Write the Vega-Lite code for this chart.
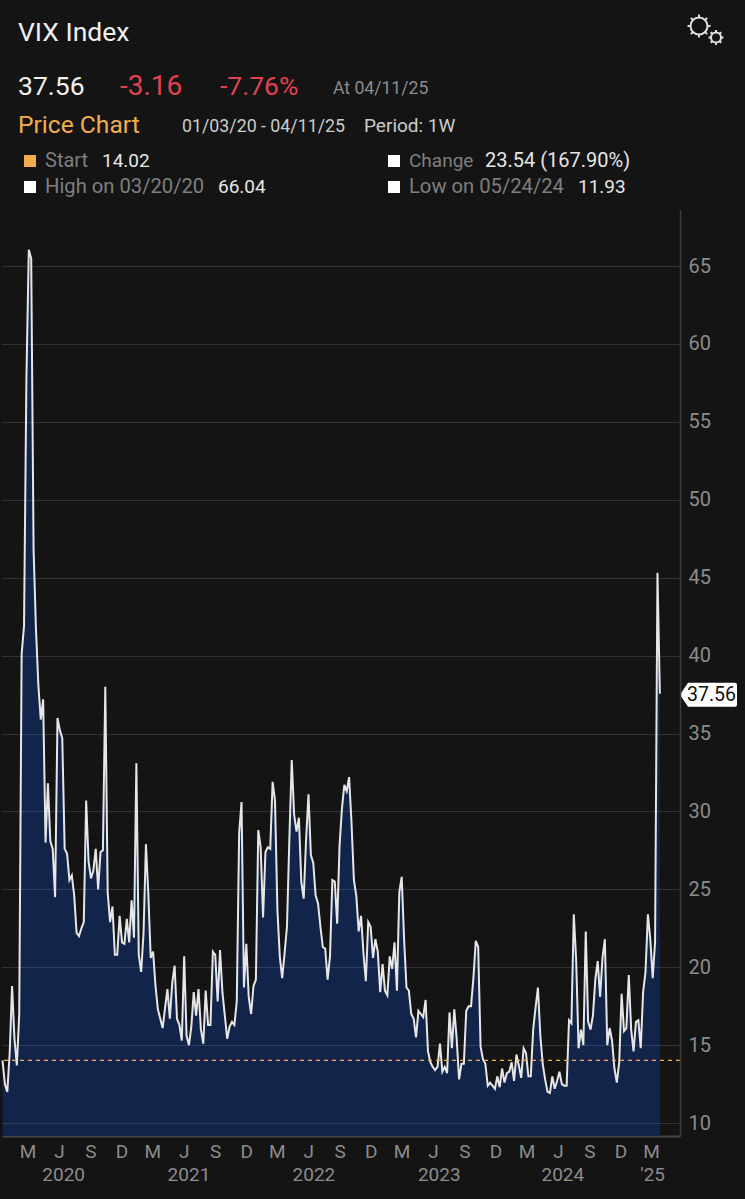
{"$schema":"https://vega.github.io/schema/vega-lite/v6.json","width":678,"height":926,"autosize":{"type":"none"},"padding":{"left":2,"top":210,"right":65,"bottom":63},"background":"#141414","config":{"view":{"stroke":null},"font":"Roboto"},"datasets":{"vix":[{"d":"2020-01-03","v":14.02},{"d":"2020-01-10","v":12.5},{"d":"2020-01-17","v":12.0},{"d":"2020-01-24","v":14.5},{"d":"2020-01-31","v":18.8},{"d":"2020-02-07","v":15.4},{"d":"2020-02-14","v":13.7},{"d":"2020-02-21","v":17.0},{"d":"2020-02-28","v":40.1},{"d":"2020-03-06","v":41.9},{"d":"2020-03-13","v":57.8},{"d":"2020-03-20","v":66.04},{"d":"2020-03-27","v":65.5},{"d":"2020-04-03","v":46.8},{"d":"2020-04-10","v":41.7},{"d":"2020-04-17","v":38.1},{"d":"2020-04-24","v":35.9},{"d":"2020-05-01","v":37.2},{"d":"2020-05-08","v":28.0},{"d":"2020-05-15","v":31.8},{"d":"2020-05-22","v":28.1},{"d":"2020-05-29","v":27.6},{"d":"2020-06-05","v":24.5},{"d":"2020-06-12","v":36.0},{"d":"2020-06-19","v":35.2},{"d":"2020-06-26","v":34.7},{"d":"2020-07-03","v":27.6},{"d":"2020-07-10","v":27.3},{"d":"2020-07-17","v":25.6},{"d":"2020-07-24","v":25.9},{"d":"2020-07-31","v":24.6},{"d":"2020-08-07","v":22.2},{"d":"2020-08-14","v":22.0},{"d":"2020-08-21","v":22.5},{"d":"2020-08-28","v":22.9},{"d":"2020-09-04","v":30.7},{"d":"2020-09-11","v":26.8},{"d":"2020-09-18","v":25.7},{"d":"2020-09-25","v":26.2},{"d":"2020-10-02","v":27.6},{"d":"2020-10-09","v":25.0},{"d":"2020-10-16","v":27.4},{"d":"2020-10-23","v":27.5},{"d":"2020-10-30","v":38.0},{"d":"2020-11-06","v":24.8},{"d":"2020-11-13","v":22.9},{"d":"2020-11-20","v":23.9},{"d":"2020-11-27","v":20.8},{"d":"2020-12-04","v":20.8},{"d":"2020-12-11","v":23.3},{"d":"2020-12-18","v":21.6},{"d":"2020-12-25","v":21.5},{"d":"2021-01-01","v":23.1},{"d":"2021-01-08","v":21.6},{"d":"2021-01-15","v":24.3},{"d":"2021-01-22","v":21.9},{"d":"2021-01-29","v":33.1},{"d":"2021-02-05","v":20.8},{"d":"2021-02-12","v":19.7},{"d":"2021-02-19","v":22.2},{"d":"2021-02-26","v":27.9},{"d":"2021-03-05","v":24.7},{"d":"2021-03-12","v":20.6},{"d":"2021-03-19","v":21.0},{"d":"2021-03-26","v":18.8},{"d":"2021-04-02","v":17.3},{"d":"2021-04-09","v":16.7},{"d":"2021-04-16","v":16.1},{"d":"2021-04-23","v":17.4},{"d":"2021-04-30","v":18.6},{"d":"2021-05-07","v":16.7},{"d":"2021-05-14","v":19.0},{"d":"2021-05-21","v":20.1},{"d":"2021-05-28","v":16.7},{"d":"2021-06-04","v":16.3},{"d":"2021-06-11","v":15.3},{"d":"2021-06-18","v":20.7},{"d":"2021-06-25","v":15.6},{"d":"2021-07-02","v":15.0},{"d":"2021-07-09","v":16.2},{"d":"2021-07-16","v":18.4},{"d":"2021-07-23","v":16.9},{"d":"2021-07-30","v":18.6},{"d":"2021-08-06","v":16.0},{"d":"2021-08-13","v":15.1},{"d":"2021-08-20","v":18.5},{"d":"2021-08-27","v":16.3},{"d":"2021-09-03","v":16.3},{"d":"2021-09-10","v":21.0},{"d":"2021-09-17","v":20.8},{"d":"2021-09-24","v":17.8},{"d":"2021-10-01","v":21.1},{"d":"2021-10-08","v":18.4},{"d":"2021-10-15","v":16.9},{"d":"2021-10-22","v":15.4},{"d":"2021-10-29","v":16.2},{"d":"2021-11-05","v":16.5},{"d":"2021-11-12","v":16.3},{"d":"2021-11-19","v":17.8},{"d":"2021-11-26","v":28.6},{"d":"2021-12-03","v":30.6},{"d":"2021-12-10","v":18.7},{"d":"2021-12-17","v":21.5},{"d":"2021-12-24","v":18.1},{"d":"2021-12-31","v":17.0},{"d":"2022-01-07","v":18.8},{"d":"2022-01-14","v":19.2},{"d":"2022-01-21","v":28.8},{"d":"2022-01-28","v":27.7},{"d":"2022-02-04","v":23.2},{"d":"2022-02-11","v":27.4},{"d":"2022-02-18","v":27.7},{"d":"2022-02-25","v":27.6},{"d":"2022-03-04","v":31.9},{"d":"2022-03-11","v":30.7},{"d":"2022-03-18","v":23.7},{"d":"2022-03-25","v":20.7},{"d":"2022-04-01","v":19.3},{"d":"2022-04-08","v":20.9},{"d":"2022-04-15","v":22.6},{"d":"2022-04-22","v":28.2},{"d":"2022-04-29","v":33.3},{"d":"2022-05-06","v":29.8},{"d":"2022-05-13","v":28.7},{"d":"2022-05-20","v":29.6},{"d":"2022-05-27","v":25.5},{"d":"2022-06-03","v":24.4},{"d":"2022-06-10","v":28.2},{"d":"2022-06-17","v":31.1},{"d":"2022-06-24","v":27.2},{"d":"2022-07-01","v":26.7},{"d":"2022-07-08","v":24.6},{"d":"2022-07-15","v":24.1},{"d":"2022-07-22","v":22.6},{"d":"2022-07-29","v":21.3},{"d":"2022-08-05","v":21.2},{"d":"2022-08-12","v":19.2},{"d":"2022-08-19","v":20.7},{"d":"2022-08-26","v":25.6},{"d":"2022-09-02","v":25.5},{"d":"2022-09-09","v":22.8},{"d":"2022-09-16","v":27.8},{"d":"2022-09-23","v":30.2},{"d":"2022-09-30","v":31.7},{"d":"2022-10-07","v":31.3},{"d":"2022-10-14","v":32.2},{"d":"2022-10-21","v":29.3},{"d":"2022-10-28","v":25.6},{"d":"2022-11-04","v":24.6},{"d":"2022-11-11","v":22.3},{"d":"2022-11-18","v":23.3},{"d":"2022-11-25","v":20.9},{"d":"2022-12-02","v":19.1},{"d":"2022-12-09","v":22.9},{"d":"2022-12-16","v":22.6},{"d":"2022-12-23","v":20.6},{"d":"2022-12-30","v":21.8},{"d":"2023-01-06","v":21.0},{"d":"2023-01-13","v":18.4},{"d":"2023-01-20","v":20.2},{"d":"2023-01-27","v":18.5},{"d":"2023-02-03","v":18.2},{"d":"2023-02-10","v":20.7},{"d":"2023-02-17","v":19.9},{"d":"2023-02-24","v":21.6},{"d":"2023-03-03","v":18.5},{"d":"2023-03-10","v":24.8},{"d":"2023-03-17","v":25.8},{"d":"2023-03-24","v":21.8},{"d":"2023-03-31","v":18.7},{"d":"2023-04-07","v":18.5},{"d":"2023-04-14","v":17.0},{"d":"2023-04-21","v":16.7},{"d":"2023-04-28","v":15.5},{"d":"2023-05-05","v":17.2},{"d":"2023-05-12","v":17.0},{"d":"2023-05-19","v":16.8},{"d":"2023-05-26","v":17.9},{"d":"2023-06-02","v":14.6},{"d":"2023-06-09","v":13.9},{"d":"2023-06-16","v":13.6},{"d":"2023-06-23","v":13.4},{"d":"2023-06-30","v":13.6},{"d":"2023-07-07","v":15.1},{"d":"2023-07-14","v":13.3},{"d":"2023-07-21","v":13.6},{"d":"2023-07-28","v":13.2},{"d":"2023-08-04","v":17.1},{"d":"2023-08-11","v":14.8},{"d":"2023-08-18","v":17.3},{"d":"2023-08-25","v":15.4},{"d":"2023-09-01","v":12.8},{"d":"2023-09-08","v":13.8},{"d":"2023-09-15","v":13.8},{"d":"2023-09-22","v":17.2},{"d":"2023-09-29","v":17.5},{"d":"2023-10-06","v":17.5},{"d":"2023-10-13","v":19.3},{"d":"2023-10-20","v":21.7},{"d":"2023-10-27","v":21.3},{"d":"2023-11-03","v":14.9},{"d":"2023-11-10","v":14.1},{"d":"2023-11-17","v":13.8},{"d":"2023-11-24","v":12.4},{"d":"2023-12-01","v":12.6},{"d":"2023-12-08","v":12.4},{"d":"2023-12-15","v":12.2},{"d":"2023-12-22","v":13.0},{"d":"2023-12-29","v":12.3},{"d":"2024-01-05","v":13.5},{"d":"2024-01-12","v":12.6},{"d":"2024-01-19","v":13.2},{"d":"2024-01-26","v":13.3},{"d":"2024-02-02","v":13.9},{"d":"2024-02-09","v":12.7},{"d":"2024-02-16","v":14.4},{"d":"2024-02-23","v":13.7},{"d":"2024-03-01","v":12.9},{"d":"2024-03-08","v":14.8},{"d":"2024-03-15","v":14.5},{"d":"2024-03-22","v":13.0},{"d":"2024-03-29","v":13.0},{"d":"2024-04-05","v":16.0},{"d":"2024-04-12","v":17.4},{"d":"2024-04-19","v":18.7},{"d":"2024-04-26","v":15.6},{"d":"2024-05-03","v":13.8},{"d":"2024-05-10","v":12.8},{"d":"2024-05-17","v":12.0},{"d":"2024-05-24","v":11.93},{"d":"2024-05-31","v":13.0},{"d":"2024-06-07","v":12.2},{"d":"2024-06-14","v":12.7},{"d":"2024-06-21","v":13.3},{"d":"2024-06-28","v":12.5},{"d":"2024-07-05","v":12.4},{"d":"2024-07-12","v":12.4},{"d":"2024-07-19","v":16.6},{"d":"2024-07-26","v":16.4},{"d":"2024-08-02","v":23.4},{"d":"2024-08-09","v":20.4},{"d":"2024-08-16","v":14.8},{"d":"2024-08-23","v":16.0},{"d":"2024-08-30","v":15.0},{"d":"2024-09-06","v":22.3},{"d":"2024-09-13","v":16.5},{"d":"2024-09-20","v":16.0},{"d":"2024-09-27","v":16.9},{"d":"2024-10-04","v":19.2},{"d":"2024-10-11","v":20.4},{"d":"2024-10-18","v":18.1},{"d":"2024-10-25","v":20.6},{"d":"2024-11-01","v":21.8},{"d":"2024-11-08","v":15.0},{"d":"2024-11-15","v":16.1},{"d":"2024-11-22","v":15.3},{"d":"2024-11-29","v":13.5},{"d":"2024-12-06","v":12.6},{"d":"2024-12-13","v":13.9},{"d":"2024-12-20","v":18.3},{"d":"2024-12-27","v":15.9},{"d":"2025-01-03","v":16.1},{"d":"2025-01-10","v":19.5},{"d":"2025-01-17","v":16.0},{"d":"2025-01-24","v":14.6},{"d":"2025-01-31","v":16.5},{"d":"2025-02-07","v":16.6},{"d":"2025-02-14","v":14.8},{"d":"2025-02-21","v":18.4},{"d":"2025-02-28","v":19.7},{"d":"2025-03-07","v":23.4},{"d":"2025-03-14","v":21.8},{"d":"2025-03-21","v":19.3},{"d":"2025-03-28","v":21.6},{"d":"2025-04-04","v":45.31},{"d":"2025-04-11","v":37.56}]},"layer":[{"data":{"name":"vix"},"mark":{"type":"area","color":"#12244a","clip":true},"encoding":{"x":{"field":"d","type":"temporal","scale":{"type":"utc","domain":["2020-01-01T12:00:00Z","2025-06-09T00:00:00Z"]},"title":null,"axis":{"orient":"bottom","labels":false,"ticks":false,"grid":false,"domainColor":"#444444","domainWidth":2}},"y":{"field":"v","type":"quantitative","scale":{"domain":[9.17,68.6],"nice":false,"zero":false},"title":null,"axis":{"orient":"right","values":[10,15,20,25,30,35,40,45,50,55,60,65],"labelColor":"#8c8c8c","labelFontSize":20,"labelPadding":8,"ticks":false,"grid":true,"gridColor":"#ffffff","gridOpacity":0.13,"gridWidth":1,"domainColor":"#3c3c3c","domainWidth":1.5,"zindex":1}}}},{"data":{"name":"vix"},"mark":{"type":"line","color":"#e6e6e6","strokeWidth":2,"interpolate":"linear"},"encoding":{"x":{"field":"d","type":"temporal"},"y":{"field":"v","type":"quantitative"}}},{"data":{"values":[{"s":14.02}]},"mark":{"type":"rule","color":"#f2ad4e","strokeWidth":1.2,"strokeDash":[4,4]},"encoding":{"y":{"field":"s","type":"quantitative"}}},{"data":{"values":[{"d":"2020-03-18","t":"M"},{"d":"2020-06-18","t":"J"},{"d":"2020-09-18","t":"S"},{"d":"2020-12-18","t":"D"},{"d":"2021-03-18","t":"M"},{"d":"2021-06-18","t":"J"},{"d":"2021-09-18","t":"S"},{"d":"2021-12-18","t":"D"},{"d":"2022-03-18","t":"M"},{"d":"2022-06-18","t":"J"},{"d":"2022-09-18","t":"S"},{"d":"2022-12-18","t":"D"},{"d":"2023-03-18","t":"M"},{"d":"2023-06-18","t":"J"},{"d":"2023-09-18","t":"S"},{"d":"2023-12-18","t":"D"},{"d":"2024-03-18","t":"M"},{"d":"2024-06-18","t":"J"},{"d":"2024-09-18","t":"S"},{"d":"2024-12-18","t":"D"},{"d":"2025-03-18","t":"M"}]},"mark":{"type":"text","color":"#8c8c8c","fontSize":19,"baseline":"middle"},"encoding":{"x":{"field":"d","type":"temporal"},"y":{"datum":8.14},"text":{"field":"t"}}},{"data":{"values":[{"d":"2020-06-30","t":"2020"},{"d":"2021-07-02","t":"2021"},{"d":"2022-07-03","t":"2022"},{"d":"2023-07-05","t":"2023"},{"d":"2024-07-01","t":"2024"},{"d":"2025-03-21","t":"'25"}]},"mark":{"type":"text","color":"#8c8c8c","fontSize":19,"baseline":"middle"},"encoding":{"x":{"field":"d","type":"temporal"},"y":{"datum":6.66},"text":{"field":"t"}}},{"data":{"values":[{"d":"2025-06-09","v":37.56}]},"mark":{"type":"point","shape":"M0,1 L8,-11 L55,-11 Q57,-11 57,-9 L57,11 Q57,13 55,13 L8,13 Z","size":4,"filled":true,"color":"#ffffff","opacity":1},"encoding":{"x":{"field":"d","type":"temporal"},"y":{"field":"v","type":"quantitative"}}},{"data":{"values":[{"d":"2025-06-09","v":37.56,"t":"37.56"}]},"mark":{"type":"text","color":"#111111","fontSize":19.5,"align":"left","baseline":"middle","dx":7,"dy":1},"encoding":{"x":{"field":"d","type":"temporal"},"y":{"field":"v","type":"quantitative"},"text":{"field":"t"}}},{"data":{"values":[{"t":"VIX Index"}]},"mark":{"type":"text","color":"#f0f0f0","fontSize":26.5,"align":"left","x":16,"y":-169,"baseline":"alphabetic"},"encoding":{"text":{"field":"t"}}},{"data":{"values":[{"t":"37.56"}]},"mark":{"type":"text","color":"#f0f0f0","fontSize":26.5,"align":"left","x":16,"y":-115,"baseline":"alphabetic"},"encoding":{"text":{"field":"t"}}},{"data":{"values":[{"t":"-3.16"}]},"mark":{"type":"text","color":"#e0434f","fontSize":28,"align":"left","x":118,"y":-115,"baseline":"alphabetic"},"encoding":{"text":{"field":"t"}}},{"data":{"values":[{"t":"-7.76%"}]},"mark":{"type":"text","color":"#e0434f","fontSize":26.5,"align":"left","x":218,"y":-115,"baseline":"alphabetic"},"encoding":{"text":{"field":"t"}}},{"data":{"values":[{"t":"At 04/11/25"}]},"mark":{"type":"text","color":"#8c8c8c","fontSize":17.6,"align":"left","x":331,"y":-116,"baseline":"alphabetic"},"encoding":{"text":{"field":"t"}}},{"data":{"values":[{"t":"Price Chart"}]},"mark":{"type":"text","color":"#f2ad4e","fontSize":24.6,"align":"left","x":16,"y":-77,"baseline":"alphabetic"},"encoding":{"text":{"field":"t"}}},{"data":{"values":[{"t":"01/03/20 - 04/11/25"}]},"mark":{"type":"text","color":"#cccccc","fontSize":17.8,"align":"left","x":180,"y":-78,"baseline":"alphabetic"},"encoding":{"text":{"field":"t"}}},{"data":{"values":[{"t":"Period: 1W"}]},"mark":{"type":"text","color":"#cccccc","fontSize":19,"align":"left","x":362,"y":-78,"baseline":"alphabetic"},"encoding":{"text":{"field":"t"}}},{"data":{"values":[{"t":"Start"}]},"mark":{"type":"text","color":"#7f7f7f","fontSize":20,"align":"left","x":43,"y":-43,"baseline":"alphabetic"},"encoding":{"text":{"field":"t"}}},{"data":{"values":[{"t":"14.02"}]},"mark":{"type":"text","color":"#e6e6e6","fontSize":19,"align":"left","x":100,"y":-43,"baseline":"alphabetic"},"encoding":{"text":{"field":"t"}}},{"data":{"values":[{"t":"Change"}]},"mark":{"type":"text","color":"#7f7f7f","fontSize":19,"align":"left","x":407,"y":-43,"baseline":"alphabetic"},"encoding":{"text":{"field":"t"}}},{"data":{"values":[{"t":"23.54 (167.90%)"}]},"mark":{"type":"text","color":"#e6e6e6","fontSize":20,"align":"left","x":483,"y":-43,"baseline":"alphabetic"},"encoding":{"text":{"field":"t"}}},{"data":{"values":[{"t":"High on 03/20/20"}]},"mark":{"type":"text","color":"#7f7f7f","fontSize":20.2,"align":"left","x":43,"y":-17,"baseline":"alphabetic"},"encoding":{"text":{"field":"t"}}},{"data":{"values":[{"t":"66.04"}]},"mark":{"type":"text","color":"#e6e6e6","fontSize":19,"align":"left","x":216,"y":-17,"baseline":"alphabetic"},"encoding":{"text":{"field":"t"}}},{"data":{"values":[{"t":"Low on 05/24/24"}]},"mark":{"type":"text","color":"#7f7f7f","fontSize":20.2,"align":"left","x":407,"y":-17,"baseline":"alphabetic"},"encoding":{"text":{"field":"t"}}},{"data":{"values":[{"t":"11.93"}]},"mark":{"type":"text","color":"#e6e6e6","fontSize":19,"align":"left","x":576,"y":-17,"baseline":"alphabetic"},"encoding":{"text":{"field":"t"}}},{"data":{"values":[{"k":"Start"}]},"mark":{"type":"point","shape":"square","filled":true,"size":144,"color":"#f2ad4e","opacity":1,"x":28,"y":-49},"encoding":{}},{"data":{"values":[{"k":"High"}]},"mark":{"type":"point","shape":"square","filled":true,"size":144,"color":"#ffffff","opacity":1,"x":28,"y":-23},"encoding":{}},{"data":{"values":[{"k":"Change"}]},"mark":{"type":"point","shape":"square","filled":true,"size":144,"color":"#ffffff","opacity":1,"x":392,"y":-49},"encoding":{}},{"data":{"values":[{"k":"Low"}]},"mark":{"type":"point","shape":"square","filled":true,"size":144,"color":"#ffffff","opacity":1,"x":392,"y":-23},"encoding":{}},{"data":{"values":[{"k":"gear"}]},"mark":{"type":"point","shape":"M-8.5,0 A8.5,8.5 0 1,0 8.5,0 A8.5,8.5 0 1,0 -8.5,0 M0,-8.5 L0,-11.5 M0,8.5 L0,11.5 M-8.5,0 L-11.5,0 M8.5,0 L11.5,0 M-6,-6 L-8.1,-8.1 M6,-6 L8.1,-8.1 M-6,6 L-8.1,8.1 M6,6 L8.1,8.1","size":4,"filled":false,"color":"#e0e0e0","strokeWidth":2,"opacity":1,"x":697,"y":-184},"encoding":{}},{"data":{"values":[{"k":"gear2"}]},"mark":{"type":"point","shape":"M-5,0 A5,5 0 1,0 5,0 A5,5 0 1,0 -5,0 M0,-5 L0,-7.5 M0,5 L0,7.5 M-5,0 L-7.5,0 M5,0 L7.5,0 M-3.5,-3.5 L-5.3,-5.3 M3.5,-3.5 L5.3,-5.3 M-3.5,3.5 L-5.3,5.3 M3.5,3.5 L5.3,5.3","size":4,"filled":false,"color":"#e0e0e0","strokeWidth":2,"opacity":1,"x":714,"y":-172.5},"encoding":{}}]}
